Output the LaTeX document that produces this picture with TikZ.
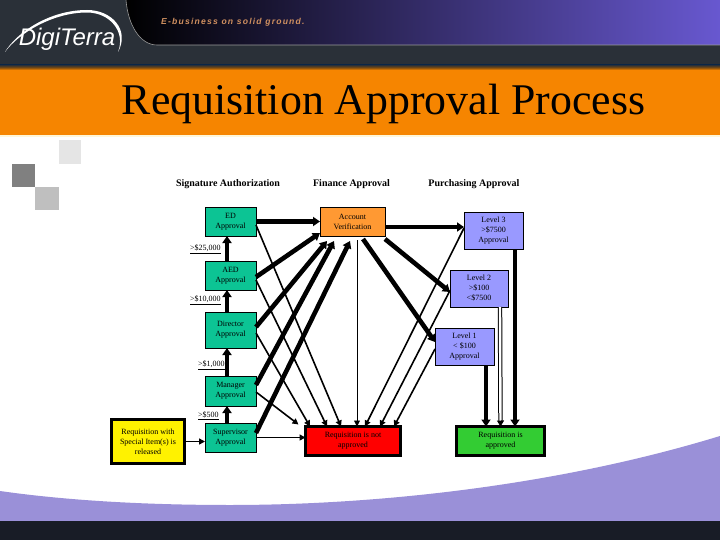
\documentclass[tikz,border=0pt]{standalone}
\usepackage{fontspec}
\setmainfont{Liberation Serif}
\newfontfamily\logofont{Liberation Sans}
\newfontfamily\tagfont[LetterSpace=14]{Liberation Sans}
\usetikzlibrary{arrows.meta,calc}
\definecolor{hdr}{HTML}{2A3038}
\definecolor{orangeband}{HTML}{F68500}
\definecolor{bandedge}{HTML}{7A4A10}
\definecolor{tealbox}{HTML}{0CC494}
\definecolor{orbox}{HTML}{FF9933}
\definecolor{perbox}{HTML}{9999FF}
\definecolor{grnbox}{HTML}{33CC33}
\definecolor{lav}{HTML}{9A90D8}
\definecolor{foot}{HTML}{181C26}
\definecolor{creamline}{HTML}{FFF6D8}
\definecolor{panelmid}{HTML}{38326F}
\definecolor{panelend}{HTML}{6858D0}
\definecolor{tagcol}{HTML}{D09060}
\tikzset{
  boxbase/.style={draw=black,outer sep=0pt,inner sep=0pt,align=center,text=black,font=\fontsize{8}{10}\selectfont},
  tealnode/.style={boxbase,fill=tealbox,line width=.8pt,minimum width=51pt},
  ornode/.style={boxbase,fill=orbox,line width=.8pt},
  pernode/.style={boxbase,fill=perbox,line width=.8pt,minimum height=37pt},
  heavynode/.style={boxbase,line width=3pt},
  headtxt/.style={font=\fontsize{10}{12}\selectfont\bfseries,inner sep=0pt,text=black},
  lbl/.style={font=\fontsize{8}{10}\selectfont,inner sep=0pt,anchor=west,text=black},
  fat/.style={line width=4.6pt,-{Triangle[length=7pt,width=9pt]}},
  slim/.style={line width=1.6pt,-{Triangle[length=6pt,width=6pt]}},
  dbl/.style={line width=1pt,double,double distance=2.4pt,-{Triangle[length=6pt,width=7pt]}}
}
\begin{document}
\begin{tikzpicture}[x=1pt,y=-1pt]
\useasboundingbox (0,0) rectangle (720,540);
% backgrounds
\fill[white] (0,0) rectangle (720,540);
\fill[hdr] (0,0) rectangle (720,66);
\fill[orangeband] (0,68) rectangle (720,135);
\shade[top color=hdr,bottom color=orangeband,middle color=bandedge] (0,65) rectangle (720,70);
\fill[creamline] (0,135) rectangle (720,137);
\shade[left color=black,middle color=panelmid,right color=panelend] (126,0) .. controls (128,25) and (140,45) .. (157,45) -- (720,45) -- (720,0) -- cycle;
\draw[line width=.6pt,black!40] (126,0) .. controls (128,25) and (140,45) .. (157,45) -- (720,45);
% footer swoosh
\fill[lav] (0,491) .. controls (70,501) and (150,505) .. (230,505) .. controls (380,505) and (560,485) .. (720,436) -- (720,521) -- (0,521) -- cycle;
\fill[foot] (0,520.5) rectangle (720,540);
% squares
\fill[black!10] (59,140) rectangle (81,164);
\fill[black!50] (12,164) rectangle (35,187);
\fill[black!25] (35,187) rectangle (59,210);
% logo
\fill[white] (5,52) .. controls (17,32) and (50,10) .. (87,10) .. controls (112,10) and (130,30) .. (118,52) .. controls (126,32) and (110,12.5) .. (87,12.5) .. controls (52,12.5) and (18,34) .. cycle;
\node[inner sep=0pt,text=white,font=\logofont\itshape\fontsize{24}{24}\selectfont] (logo) at (67,39.5) {DigiTerra};
\node[inner sep=0pt,anchor=west,text=tagcol,font=\tagfont\bfseries\itshape\fontsize{8.6}{10}\selectfont] (tag) at (161,22.5) {E-business on solid ground.};
% title
\node[inner sep=0pt,text=black,font=\fontsize{43.8}{44}\selectfont] (title) at (383.5,104) {Requisition Approval Process};
% headings
\node[headtxt] (h1) at (228,184.5) {Signature Authorization};
\node[headtxt] (h2) at (351.5,184.5) {Finance Approval};
\node[headtxt] (h3) at (474,184.5) {Purchasing Approval};
% boxes
\node[tealnode,minimum height=29pt] (ed) at (230.5,221.5) {ED\\Approval};
\node[tealnode,minimum height=29pt] (aed) at (230.5,275.5) {AED\\Approval};
\node[tealnode,minimum height=36pt] (dir) at (230.5,330) {Director\\Approval};
\node[tealnode,minimum height=30pt] (mgr) at (230.5,391) {Manager\\Approval};
\node[tealnode,minimum height=29pt] (sup) at (230.5,437.5) {Supervisor\\Approval};
\node[heavynode,fill=yellow,minimum width=73pt,minimum height=44pt] (req) at (148,441.5) {Requisition with\\Special Item(s) is\\released};
\node[heavynode,fill=red,minimum width=95pt,minimum height=29pt] (no) at (353,441) {Requisition is not\\approved};
\node[heavynode,fill=grnbox,minimum width=88pt,minimum height=29pt] (yes) at (500.5,441) {Requisition is\\approved};
\node[ornode,minimum width=65pt,minimum height=29pt] (acct) at (352.5,221.5) {Account\\Verification};
\node[pernode,minimum width=59pt] (lthree) at (493.5,230.5) {Level 3\\>\$7500\\Approval};
\node[pernode,minimum width=58pt] (ltwo) at (479,288.5) {Level 2\\>\$100\\<\$7500};
\node[pernode,minimum width=59pt] (lone) at (464.5,346.5) {Level 1\\< \$100\\Approval};
% labels
\node[lbl] (a) at (190,249) {\underline{>\$25,000}};
\node[lbl] (b) at (190,300) {\underline{>\$10,000}};
\node[lbl] (c) at (198,365.5) {\underline{>\$1,000}};
\node[lbl] (d) at (198,415.5) {\underline{>\$500}};
% upward chain
\draw[fat] ([shift={(-3.5,0)}]aed.north) -- ([shift={(-3.5,0)}]ed.south);
\draw[fat] ([shift={(-3.5,0)}]dir.north) -- ([shift={(-3.5,0)}]aed.south);
\draw[fat] ([shift={(-3.5,0)}]mgr.north) -- ([shift={(-3.5,0)}]dir.south);
\draw[fat] ([shift={(-3.5,0)}]sup.north) -- ([shift={(-3.5,0)}]mgr.south);
% to account verification
\draw[fat] (ed.east) -- (acct.west);
\draw[fat] ([shift={(0,1.5)}]aed.east) -- ([shift={(0,-3)}]acct.south west);
\draw[fat] ([shift={(0,-3)}]dir.east) -- ([shift={(-25.5,5)}]acct.south);
\draw[fat] ([shift={(0,-6)}]mgr.east) -- ([shift={(-18.5,5)}]acct.south);
\draw[fat] ([shift={(0,-4.5)}]sup.east) -- ([shift={(-2.5,5)}]acct.south);
% account to purchasing
\draw[fat] ([shift={(0,5.5)}]acct.east) -- ([shift={(0,-3.5)}]lthree.west);
\draw[fat] ([shift={(0,3)}]acct.south east) -- ([shift={(0,3.5)}]ltwo.west);
\draw[fat] ([shift={(10.5,3)}]acct.south) -- ([shift={(0,-4.5)}]lone.west);
% to not approved
\draw[slim,line width=.9pt] ([shift={(4.5,4)}]acct.south) -- ([shift={(4,0)}]no.north);
\draw[slim] ([shift={(0,3.5)}]ed.east) -- ([shift={(-12,0)}]no.north);
\draw[slim] ([shift={(0,4.5)}]aed.east) -- ([shift={(-26,0)}]no.north);
\draw[slim] ([shift={(0,3)}]dir.east) -- ([shift={(-43,0)}]no.north);
\draw[slim] ([shift={(0,1)}]mgr.east) -- ([shift={(-7,-2)}]no.north west);
\draw[slim] (sup.east) -- ([shift={(0,-3.5)}]no.west);
\draw[slim] ([shift={(0,-2.5)}]lthree.west) -- ([shift={(12,0)}]no.north);
\draw[slim] ([shift={(0,2)}]ltwo.west) -- ([shift={(27,0)}]no.north);
\draw[slim] ([shift={(0,2.5)}]lone.west) -- ([shift={(41,0)}]no.north);
% to approved
\draw[fat] ([shift={(21.5,0)}]lthree.south) -- ([shift={(14.5,0)}]yes.north);
\draw[dbl] ([shift={(21,0)}]ltwo.south) -- (yes.north);
\draw[fat] ([shift={(21.5,0)}]lone.south) -- ([shift={(-14.5,0)}]yes.north);
% requisition to supervisor
\draw[slim] (req.east) -- ([shift={(0,4)}]sup.west);
\end{tikzpicture}
\end{document}
